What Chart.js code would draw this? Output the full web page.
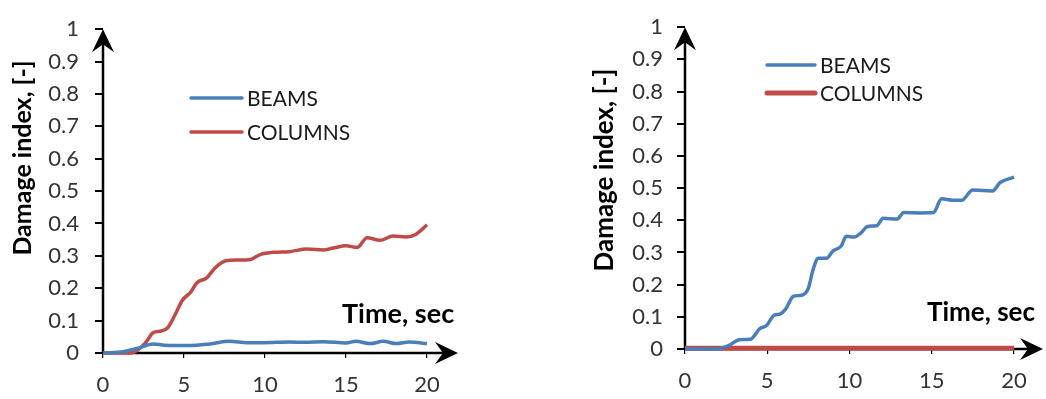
<!DOCTYPE html>
<html>
<head>
<meta charset="utf-8">
<script src="https://cdn.jsdelivr.net/npm/chart.js@4.4.1/dist/chart.umd.min.js"></script>
<style>
  body { margin: 0; background: #fff; }
  .box { position: absolute; top: 0; width: 523px; height: 399px; }
</style>
</head>
<body>
<div class="box" style="left:0"><canvas id="chartLeft" width="523" height="399"></canvas></div>
<div class="box" style="left:523px"><canvas id="chartRight" width="523" height="399"></canvas></div>
<script>
// tick labels
var xTicks = [0, 5, 10, 15, 20];
var yTicks = [0, 0.1, 0.2, 0.3, 0.4, 0.5, 0.6, 0.7, 0.8, 0.9, 1];
var seriesNames = ['BEAMS', 'COLUMNS'];

// left chart
var leftBeamsT = [0, 1.25, 2.1, 3.1, 3.8, 5.4, 6.6, 7.8, 8.9, 9.9, 11.5, 12.5, 13.6, 15.0, 15.6, 16.5, 17.3, 18.1, 18.9, 20];
var leftBeamsV = [0, 0.004, 0.014, 0.028, 0.024, 0.023, 0.028, 0.036, 0.032, 0.032, 0.034, 0.033, 0.035, 0.031, 0.036, 0.029, 0.036, 0.029, 0.034, 0.029];
var leftColumnsT = [0, 1.7, 2.6, 3.1, 3.6, 4.0, 4.45, 4.9, 5.4, 5.8, 6.4, 6.9, 7.6, 8.3, 9.1, 9.7, 10.5, 11.5, 12.6, 13.6, 14.2, 15.0, 15.7, 16.3, 17.1, 17.9, 18.7, 19.3, 20];
var leftColumnsV = [0, 0, 0.03, 0.063, 0.068, 0.078, 0.118, 0.163, 0.187, 0.217, 0.232, 0.262, 0.285, 0.287, 0.289, 0.304, 0.311, 0.313, 0.321, 0.318, 0.324, 0.331, 0.326, 0.356, 0.348, 0.361, 0.358, 0.366, 0.396];

// right chart
var rightBeamsT = [0, 1.9, 2.7, 3.3, 3.95, 4.55, 4.95, 5.45, 5.75, 6.1, 6.6, 7.1, 7.5, 7.8, 8.1, 8.6, 9.0, 9.5, 9.8, 10.3, 10.7, 11.1, 11.65, 12.05, 12.9, 13.3, 14.3, 15.1, 15.6, 16.3, 16.8, 17.5, 18.7, 19.15, 20];
var rightBeamsV = [0, 0, 0.012, 0.029, 0.03, 0.063, 0.073, 0.106, 0.108, 0.123, 0.164, 0.167, 0.189, 0.249, 0.282, 0.282, 0.305, 0.32, 0.35, 0.348, 0.361, 0.381, 0.383, 0.406, 0.404, 0.424, 0.423, 0.424, 0.467, 0.462, 0.462, 0.494, 0.491, 0.517, 0.534];
var rightColumnsT = [0, 5, 10, 15, 20];
var rightColumnsV = [0.002, 0.002, 0.002, 0.002, 0.002];

var BLUE = '#4A7EBB';
var RED = '#BE4B48';
var FONT = 'Lato, "Open Sans", sans-serif';

function pts(t, v) {
    return t.map(function(x, i) { return { x: x, y: v[i] }; });
}

// axes with arrows + legend + inner labels
var decor = {
    id: 'decor',
    beforeDatasetsDraw: function(chart, args, o) {
        var ctx = chart.ctx;
        var x0 = chart.scales.x.getPixelForValue(0);
        var y0 = chart.scales.y.getPixelForValue(0);
        var yTop = chart.scales.y.getPixelForValue(1);
        ctx.save();
        ctx.strokeStyle = '#000';
        ctx.fillStyle = '#000';
        ctx.lineWidth = 2.5;
        ctx.beginPath();
        ctx.moveTo(x0, y0 + 1);
        ctx.lineTo(x0, yTop + 10);
        ctx.moveTo(x0 - 1, y0);
        ctx.lineTo(o.arrowX - 10, y0);
        ctx.stroke();
        // y arrow head
        ctx.beginPath();
        ctx.moveTo(x0, yTop);
        ctx.lineTo(x0 + 11, yTop + 23);
        ctx.lineTo(x0, yTop + 15);
        ctx.lineTo(x0 - 11, yTop + 23);
        ctx.closePath();
        ctx.fill();
        // x arrow head
        ctx.beginPath();
        ctx.moveTo(o.arrowX, y0);
        ctx.lineTo(o.arrowX - 23, y0 - 11);
        ctx.lineTo(o.arrowX - 15, y0);
        ctx.lineTo(o.arrowX - 23, y0 + 11);
        ctx.closePath();
        ctx.fill();
        ctx.restore();
    },
    afterDraw: function(chart, args, o) {
        var ctx = chart.ctx;
        ctx.save();
        // y title
        ctx.fillStyle = '#000';
        ctx.font = 'bold ' + o.yTitleSize + 'px ' + FONT;
        ctx.textAlign = 'center';
        ctx.textBaseline = 'middle';
        ctx.translate(o.yTitleX, o.yTitleY);
        ctx.rotate(-Math.PI / 2);
        ctx.fillText('Damage index, [-]', 0, 0);
        ctx.restore();

        ctx.save();
        ctx.fillStyle = '#000';
        ctx.font = 'bold ' + o.timeSize + 'px ' + FONT;
        ctx.textAlign = 'left';
        ctx.textBaseline = 'middle';
        ctx.fillText('Time, sec', o.timeX, o.timeY);

        // legend
        ctx.font = '21px ' + FONT;
        chart.data.datasets.forEach(function(ds, i) {
            var y = o.legY[i];
            ctx.strokeStyle = ds.borderColor;
            ctx.lineWidth = ds.borderWidth;
            ctx.lineCap = 'round';
            ctx.beginPath();
            ctx.moveTo(o.legX1, y);
            ctx.lineTo(o.legX2, y);
            ctx.stroke();
            ctx.fillStyle = '#1a1a1a';
            ctx.fillText(ds.label, o.legX2 + 5, y + 1);
        });
        ctx.restore();
    }
};

function makeChart(id, datasets, pad, yWidth, xHeight, yPad, deco) {
    var ctx = document.getElementById(id).getContext('2d');
    return new Chart(ctx, {
        type: 'line',
        data: { datasets: datasets },
        options: {
            responsive: false,
            animation: false,
            layout: { padding: pad },
            elements: { point: { radius: 0 }, line: { cubicInterpolationMode: 'monotone' } },
            plugins: {
                legend: { display: false },
                tooltip: { enabled: false },
                decor: deco
            },
            scales: {
                x: {
                    type: 'linear',
                    min: 0, max: 20,
                    afterBuildTicks: function(s) { s.ticks = xTicks.map(function(v) { return { value: v }; }); },
                    afterFit: function(s) { s.height = xHeight; },
                    border: { display: false },
                    grid: { drawOnChartArea: false, drawTicks: true, tickLength: 5, color: '#000', lineWidth: 1.2 },
                    ticks: { color: '#333', padding: 14, maxRotation: 0, font: { family: FONT, size: 22 } }
                },
                y: {
                    min: 0, max: 1,
                    afterBuildTicks: function(s) { s.ticks = yTicks.map(function(v) { return { value: v }; }); },
                    afterFit: function(s) { s.width = yWidth; },
                    border: { display: false },
                    grid: { drawOnChartArea: false, drawTicks: true, tickLength: 8, color: '#000', lineWidth: 2 },
                    ticks: {
                        color: '#333', padding: yPad, font: { family: FONT, size: 22 },
                        callback: function(v) { return String(Math.round(v * 10) / 10); }
                    }
                }
            }
        },
        plugins: [decor]
    });
}

makeChart('chartLeft', [
    { label: seriesNames[0], data: pts(leftBeamsT, leftBeamsV), borderColor: BLUE, borderWidth: 3.5, fill: false, clip: false },
    { label: seriesNames[1], data: pts(leftColumnsT, leftColumnsV), borderColor: RED, borderWidth: 3.5, fill: false, clip: false }
], { left: 0, right: 96, top: 17, bottom: 0 }, 103, 46, 16,
   { arrowX: 458, yTitleX: 23, yTitleY: 158, yTitleSize: 25, timeX: 342, timeY: 314, timeSize: 27, legX1: 191, legX2: 242, legY: [98, 132] });

makeChart('chartRight', [
    { label: seriesNames[0], data: pts(rightBeamsT, rightBeamsV), borderColor: BLUE, borderWidth: 3.5, fill: false, clip: false },
    { label: seriesNames[1], data: pts(rightColumnsT, rightColumnsV), borderColor: RED, borderWidth: 5, fill: false, clip: false }
], { left: 0, right: 32, top: 19, bottom: 0 }, 162, 50, 14,
   { arrowX: 520, yTitleX: 82, yTitleY: 170, yTitleSize: 26, timeX: 404, timeY: 313, timeSize: 26, legX1: 244, legX2: 292, legY: [65, 93] });
</script>
</body>
</html>
